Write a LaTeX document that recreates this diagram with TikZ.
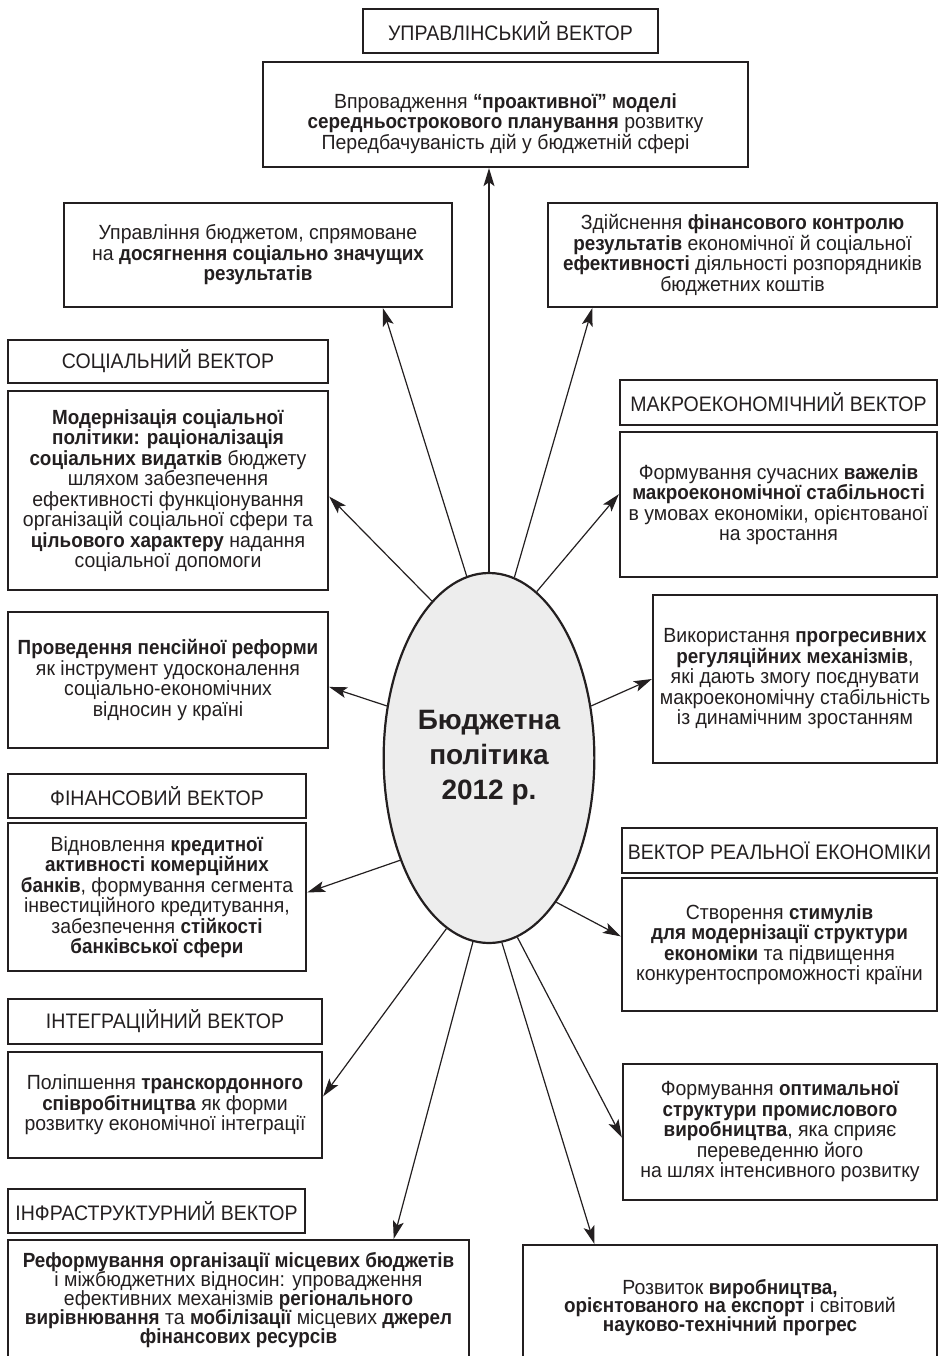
\documentclass[tikz,border=0pt]{standalone}
\usepackage{fontspec}
\setmainfont{Liberation Sans}
\newfontfamily\boxfont{Liberation Sans}[UprightFeatures={FakeStretch=0.95},BoldFeatures={FakeStretch=0.92}]
\newfontfamily\hdrfont{Liberation Sans}[FakeStretch=0.93]
\usetikzlibrary{arrows.meta,calc,shapes.geometric}
\definecolor{ink}{HTML}{231F20}
\definecolor{ellfill}{HTML}{EDEDED}
% centred lines (separated by \cr) with a fixed line pitch, moved up (+) or down (-) inside the box
\newcommand\myshiftlines[3]{\raisebox{#1}[\height][\depth]{\vbox{\baselineskip=#2\lineskiplimit=-100pt\halign{\hfil##\hfil\cr #3\crcr}}}}
\begin{document}
\begin{tikzpicture}[x=1pt,y=-1pt,
 box/.style={draw=ink,line width=2.3pt,text=ink,align=center,inner sep=1pt,font=\boxfont\fontsize{20.5}{20.5}\selectfont},
 hdr/.style={box,font=\hdrfont\fontsize{21}{22}\selectfont},
 arr/.style={draw=ink,line width=1.2pt,-{Stealth[length=18pt,width=11pt,inset=4pt]}},
]
\useasboundingbox (0,0) rectangle (940,1356);
\clip (0,0) rectangle (940,1356);

% centre
\node[ellipse,draw=ink,line width=2.2pt,fill=ellfill,minimum width=206pt,minimum height=370pt,text=ink,align=center,font=\fontsize{28}{35}\selectfont\bfseries] (E) at (489,758) {Бюджетна\\ політика\\ 2012 р.};

% top
\node[hdr,minimum width=295pt,minimum height=44pt] (hUpr) at (510.5,31) {УПРАВЛІНСЬКИЙ ВЕКТОР};
\node[box,minimum width=485pt,minimum height=105pt] (top) at (505.5,114.5) {\myshiftlines{-9pt}{20.5pt}{Впровадження \textbf{“проактивної” моделі}\cr \textbf{середньострокового планування} розвитку\cr Передбачуваність дій у бюджетній сфері}};
\node[box,minimum width=388pt,minimum height=104pt] (upr) at (258,255) {Управління бюджетом, спрямоване\\ на \textbf{досягнення соціально значущих}\\ \textbf{результатів}};
\node[box,minimum width=389pt,minimum height=104pt] (zd) at (742.5,255) {Здійснення \textbf{фінансового контролю}\\ \textbf{результатів} економічної й соціальної\\ \textbf{ефективності} діяльності розпорядників\\ бюджетних коштів};

% left column
\node[hdr,minimum width=320pt,minimum height=43pt] (hSoc) at (168,361.5) {СОЦІАЛЬНИЙ ВЕКТОР};
\node[box,minimum width=320pt,minimum height=199pt] (mod) at (168,490.5) {\textbf{Модернізація соціальної}\\ \textbf{політики: раціоналізація}\\ \textbf{соціальних видатків} бюджету\\ шляхом забезпечення\\ ефективності функціонування\\ організацій соціальної сфери та\\ \textbf{цільового характеру} надання\\ соціальної допомоги};
\node[box,minimum width=320pt,minimum height=136pt] (pens) at (168,680) {\textbf{Проведення пенсійної реформи}\\ як інструмент удосконалення\\ соціально-економічних\\ відносин у країні};
\node[hdr,minimum width=298pt,minimum height=44pt] (hFin) at (157,796) {ФІНАНСОВИЙ ВЕКТОР};
\node[box,minimum width=298pt,minimum height=148pt] (vidn) at (157,897) {Відновлення \textbf{кредитної}\\ \textbf{активності комерційних}\\ \textbf{банків}, формування сегмента\\ інвестиційного кредитування,\\ забезпечення \textbf{стійкості}\\ \textbf{банківської сфери}};
\node[hdr,minimum width=314pt,minimum height=45pt] (hInt) at (165,1021.5) {ІНТЕГРАЦІЙНИЙ ВЕКТОР};
\node[box,minimum width=314pt,minimum height=106pt] (polip) at (165,1105) {Поліпшення \textbf{транскордонного}\\ \textbf{співробітництва} як форми\\ розвитку економічної інтеграції};
\node[hdr,minimum width=297pt,minimum height=44pt] (hInf) at (156.5,1211) {ІНФРАСТРУКТУРНИЙ ВЕКТОР};
\node[box,minimum width=461pt,minimum height=130pt] (ref) at (238.5,1305) {\myshiftlines{5pt}{19pt}{\textbf{Реформування організації місцевих бюджетів}\cr і міжбюджетних відносин: упровадження\cr ефективних механізмів \textbf{регіонального}\cr \textbf{вирівнювання} та \textbf{мобілізації} місцевих \textbf{джерел}\cr \textbf{фінансових ресурсів}}};

% right column
\node[hdr,minimum width=317pt,minimum height=45pt] (hMac) at (778.5,402.5) {МАКРОЕКОНОМІЧНИЙ ВЕКТОР};
\node[box,minimum width=317pt,minimum height=145pt] (form1) at (778.5,504.5) {Формування сучасних \textbf{важелів}\\ \textbf{макроекономічної стабільності}\\ в умовах економіки, орієнтованої\\ на зростання};
\node[box,minimum width=284pt,minimum height=168pt] (vyk) at (795,679) {Використання \textbf{прогресивних}\\ \textbf{регуляційних механізмів},\\ які дають змогу поєднувати\\ макроекономічну стабільність\\ із динамічним зростанням};
\node[hdr,minimum width=315pt,minimum height=45pt] (hReal) at (779.5,850.5) {ВЕКТОР РЕАЛЬНОЇ ЕКОНОМІКИ};
\node[box,minimum width=315pt,minimum height=133pt] (stvor) at (779.5,944.5) {Створення \textbf{стимулів}\\ \textbf{для модернізації структури}\\ \textbf{економіки} та підвищення\\ конкурентоспроможності країни};
\node[box,minimum width=314pt,minimum height=136pt] (form2) at (780,1132) {Формування \textbf{оптимальної}\\ \textbf{структури промислового}\\ \textbf{виробництва}, яка сприяє\\ переведенню його\\ на шлях інтенсивного розвитку};
\node[box,minimum width=414pt,minimum height=125pt] (rozv) at (730,1307.5) {\myshiftlines{0pt}{18.5pt}{Розвиток \textbf{виробництва,}\cr \textbf{орієнтованого на експорт} і світовий\cr \textbf{науково-технічний прогрес}}};

% connectors
\draw[arr] (E.north) -- (E.north |- top.south);
\draw[arr] (E.97) -- ($(upr.south west)!0.82!(upr.south east)$);
\draw[arr] (E.82.4) -- ($(zd.south west)!0.116!(zd.south east)$);
\draw[arr] (E.110) -- ($(mod.north east)!0.53!(mod.south east)$);
\draw[arr] (E.74) -- ($(form1.north west)!0.43!(form1.south west)$);
\draw[arr] (E.153) -- ($(pens.north east)!0.55!(pens.south east)$);
\draw[arr] (E.27.7) -- (vyk.west);
\draw[arr] (E.229) -- ($(vidn.north east)!0.47!(vidn.south east)$);
\draw[arr] (E.295) -- ($(stvor.north west)!0.44!(stvor.south west)$);
\draw[arr] (E.256.7) -- ($(polip.north east)!0.42!(polip.south east)$);
\draw[arr] (E.265) -- ($(ref.north west)!0.835!(ref.north east)$);
\draw[arr] (E.274) -- ($(rozv.north west)!0.174!(rozv.north east)$);
\draw[arr] (E.279) -- ($(form2.north west)!0.54!(form2.south west)$);
\end{tikzpicture}
\end{document}
